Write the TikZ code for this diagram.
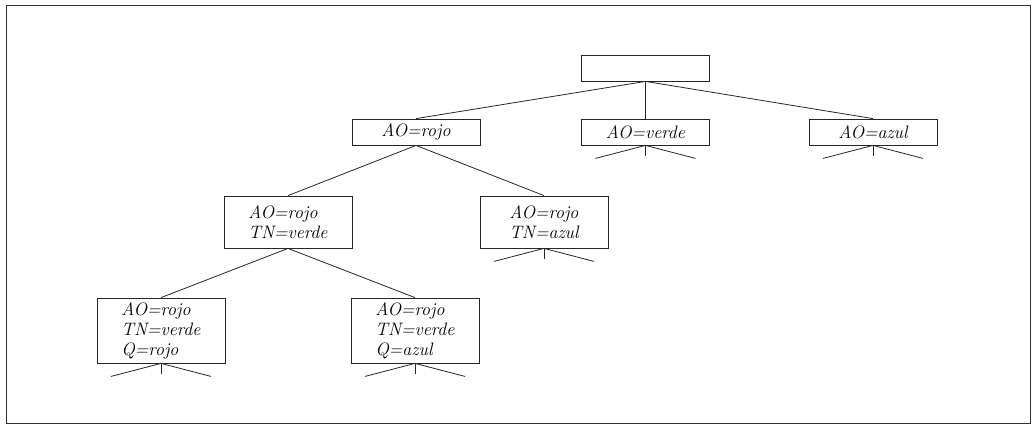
\documentclass[tikz,border=0pt]{standalone}
\usetikzlibrary{calc}
\begin{document}
\begin{tikzpicture}[x=1pt,y=-1pt,
  estado/.style={draw=black!85, line width=0.8pt, minimum width=128pt, inner sep=1pt,
    align=left, font=\fontsize{18}{20}\selectfont\itshape},
  rama/.style={draw=black!85, line width=0.8pt},
  stub/.style={draw=black!85, line width=0.8pt}]
\useasboundingbox (0,0) rectangle (1036,424);
\draw[line width=0.8pt, black!80] (6,5) rectangle (1030,423);

\node[estado, minimum height=26pt] (root) at (645.5,68) {};
\node[estado, minimum height=26pt] (aor) at (416,132) {AO=rojo};
\node[estado, minimum height=26pt] (aov) at (645.5,132) {AO=verde};
\node[estado, minimum height=26pt] (aoa) at (873,132) {AO=azul};
\node[estado, minimum height=52pt] (tnv) at (288,222) {AO=rojo\\TN=verde};
\node[estado, minimum height=52pt] (tna) at (544,222) {AO=rojo\\TN=azul};
\node[estado, minimum height=65pt] (qr) at (161,330.5) {AO=rojo\\TN=verde\\Q=rojo};
\node[estado, minimum height=65pt] (qa) at (415,330.5) {AO=rojo\\TN=verde\\Q=azul};

\draw[rama] (root.south) -- (aor.north);
\draw[rama] (root.south) -- (aov.north);
\draw[rama] (root.south) -- (aoa.north);
\draw[rama] (aor.south) -- (tnv.north);
\draw[rama] (aor.south) -- (tna.north);
\draw[rama] (tnv.south) -- (qr.north);
\draw[rama] (tnv.south) -- (qa.north);

\foreach \n in {aov,aoa,tna,qr,qa}{
  \draw[stub] (\n.south) -- ++(-50,13);
  \draw[stub] (\n.south) -- ++(0,11);
  \draw[stub] (\n.south) -- ++(50,13);
}
\end{tikzpicture}
\end{document}
